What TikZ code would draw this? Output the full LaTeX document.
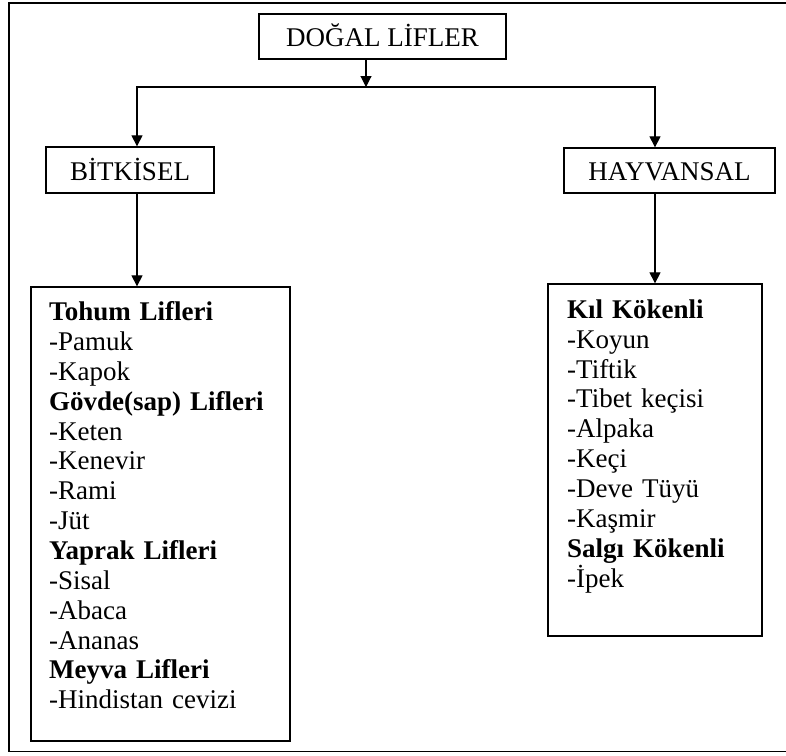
\documentclass[tikz,border=0pt]{standalone}
\usepackage{fontspec}
\setmainfont{Liberation Serif}
\usetikzlibrary{arrows.meta}
\begin{document}
\begin{tikzpicture}[x=1pt,y=-1pt,
  every node/.style={font=\fontsize{27}{29.85}\selectfont},
  topbox/.style={draw,line width=1.3pt,inner sep=0pt,text height=20.3pt,text depth=0pt},
  listbox/.style={draw,line width=1.3pt,inner sep=0pt},
  listtext/.style={anchor=north west,align=left,inner sep=0pt,text width=240pt},
  arr/.style={line width=1.1pt,-{Triangle[length=11pt,width=11pt]}}]
\useasboundingbox (0,0) rectangle (786,755);
\draw[line width=1.6pt] (795,3) -- (9,3) -- (9,751.5) -- (795,751.5);
% top level boxes
\node[topbox,minimum width=247pt,minimum height=45pt] (root) at (382.5,36.5) {DOĞAL LİFLER};
\node[topbox,minimum width=168pt,minimum height=46pt] (bit) at (130,170) {BİTKİSEL};
\node[topbox,minimum width=211pt,minimum height=45pt] (hay) at (669.5,170.5) {HAYVANSAL};
% list boxes
\node[listbox,minimum width=259pt,minimum height=454pt] (lbox) at (160.5,514) {};
\node[listbox,minimum width=214pt,minimum height=352pt] (rbox) at (655,460) {};
\node[listtext] (ltext) at (49,301.5) {\textbf{Tohum Lifleri}\\-Pamuk\\-Kapok\\\textbf{Gövde(sap) Lifleri}\\-Keten\\-Kenevir\\-Rami\\-Jüt\\\textbf{Yaprak Lifleri}\\-Sisal\\-Abaca\\-Ananas\\\textbf{Meyva Lifleri}\\-Hindistan cevizi};
\node[listtext] (rtext) at (567,299.5) {\textbf{Kıl Kökenli}\\-Koyun\\-Tiftik\\-Tibet keçisi\\-Alpaka\\-Keçi\\-Deve Tüyü\\-Kaşmir\\\textbf{Salgı Kökenli}\\-İpek};
% connectors
\coordinate (jM) at (366,87);
\coordinate (jL) at (137,87);
\coordinate (jR) at (655,87);
\draw[arr] (root.south -| jM) -- (jM);
\draw[arr] (jM) -- (jL) -- (bit.north -| jL);
\draw[arr] (jM) -- (jR) -- (hay.north -| jR);
\draw[arr] (bit.south -| jL) -- (lbox.north -| jL);
\draw[arr] (hay.south -| jR) -- (rbox.north -| jR);
\end{tikzpicture}
\end{document}
